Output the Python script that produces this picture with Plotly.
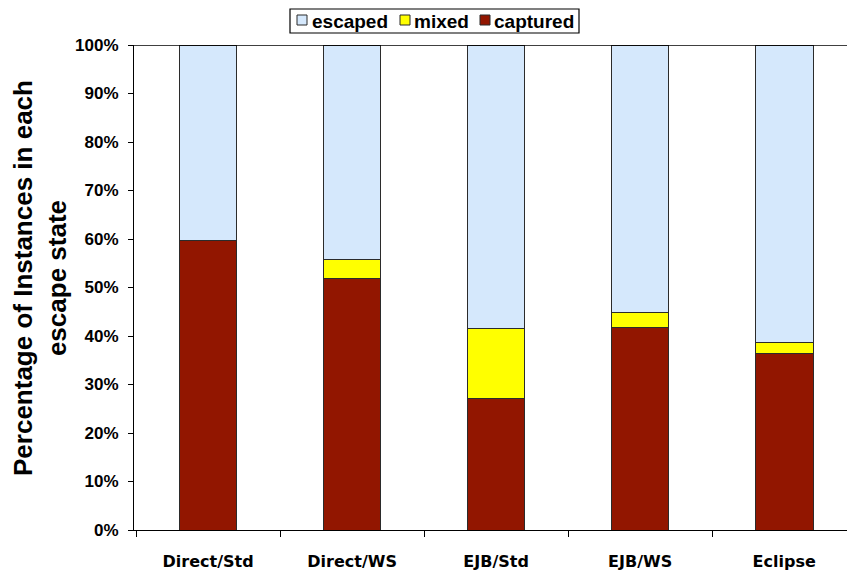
import plotly.graph_objects as go

# Escape-state breakdown per configuration (percent of instances)
categories = ["Direct/Std", "Direct/WS", "EJB/Std", "EJB/WS", "Eclipse"]
captured = [59.7, 51.8, 27.2, 41.7, 36.3]
mixed = [0.0, 3.9, 14.4, 3.1, 2.3]
escaped = [40.3, 44.3, 58.4, 55.2, 61.4]
y_ticks = list(range(0, 101, 10))
y_tick_labels = [f"{v}%" for v in y_ticks]

series = [
    ("captured", captured, "#921600"),
    ("mixed", mixed, "#FFFF00"),
    ("escaped", escaped, "#D5E8FC"),
]

W, H = 847, 574
M_L, M_R, M_T, M_B = 134, 0, 45, 44
PLOT_W = W - M_L - M_R
PLOT_H = H - M_T - M_B


def px_x(px):
    """Pixel column -> paper x."""
    return (px - M_L) / PLOT_W


def px_y(py):
    """Pixel row -> paper y."""
    return (H - M_B - py) / PLOT_H


fig = go.Figure()
for name, values, color in series:
    fig.add_trace(go.Bar(
        name=name,
        x=categories,
        y=values,
        marker=dict(color=color, line=dict(color="#2b2b2b", width=1)),
        showlegend=False,
    ))

fig.update_layout(
    width=W,
    height=H,
    barmode="stack",
    bargap=0.6,
    plot_bgcolor="white",
    paper_bgcolor="white",
    margin=dict(l=M_L, r=M_R, t=M_T, b=M_B),
    font=dict(family="Liberation Sans, Arial, sans-serif", color="black"),
    xaxis=dict(
        range=[-0.514, 4.436],
        tickson="boundaries",
        ticks="outside",
        ticklen=6,
        tickcolor="black",
        showline=True,
        linecolor="black",
        linewidth=1,
        showgrid=False,
        ticklabelstandoff=17,
        tickfont=dict(family="DejaVu Sans", size=16, weight="bold"),
    ),
    yaxis=dict(
        range=[0, 100],
        tickvals=y_ticks,
        ticktext=y_tick_labels,
        ticks="outside",
        ticklen=5,
        tickcolor="black",
        showline=True,
        linecolor="black",
        linewidth=1,
        showgrid=False,
        zeroline=False,
        ticklabelstandoff=6,
        tickfont=dict(size=17, weight="bold"),
    ),
)

# Top border of the plotting area
fig.add_shape(type="line", xref="paper", yref="y", x0=0, x1=1, y0=100, y1=100,
              line=dict(color="black", width=1.5))

# Two-line y-axis title
fig.add_annotation(
    text="Percentage of Instances in each<br>escape state",
    xref="paper", yref="paper",
    x=px_x(40), y=px_y(278),
    xanchor="center", yanchor="middle",
    textangle=-90,
    showarrow=False,
    font=dict(size=26, weight="bold"),
)

# Compact boxed legend across the top: escaped, mixed, captured
fig.add_shape(type="rect", xref="paper", yref="paper",
              x0=px_x(290), x1=px_x(579), y0=px_y(33), y1=px_y(9),
              line=dict(color="black", width=1.2), fillcolor="white")
legend_slots = [(297, 311), (400, 413), (480, 493)]
for (name, _, color), (sq_left, txt_left) in zip(reversed(series), legend_slots):
    fig.add_shape(type="rect", xref="paper", yref="paper",
                  x0=px_x(sq_left), x1=px_x(sq_left + 10),
                  y0=px_y(25), y1=px_y(15),
                  line=dict(color="#2b2b2b", width=1), fillcolor=color)
    fig.add_annotation(
        text=name, xref="paper", yref="paper",
        x=px_x(txt_left), y=px_y(21.5),
        xanchor="left", yanchor="middle",
        showarrow=False, borderpad=0,
        font=dict(size=19, weight="bold"),
    )

fig.write_html("out.html")
